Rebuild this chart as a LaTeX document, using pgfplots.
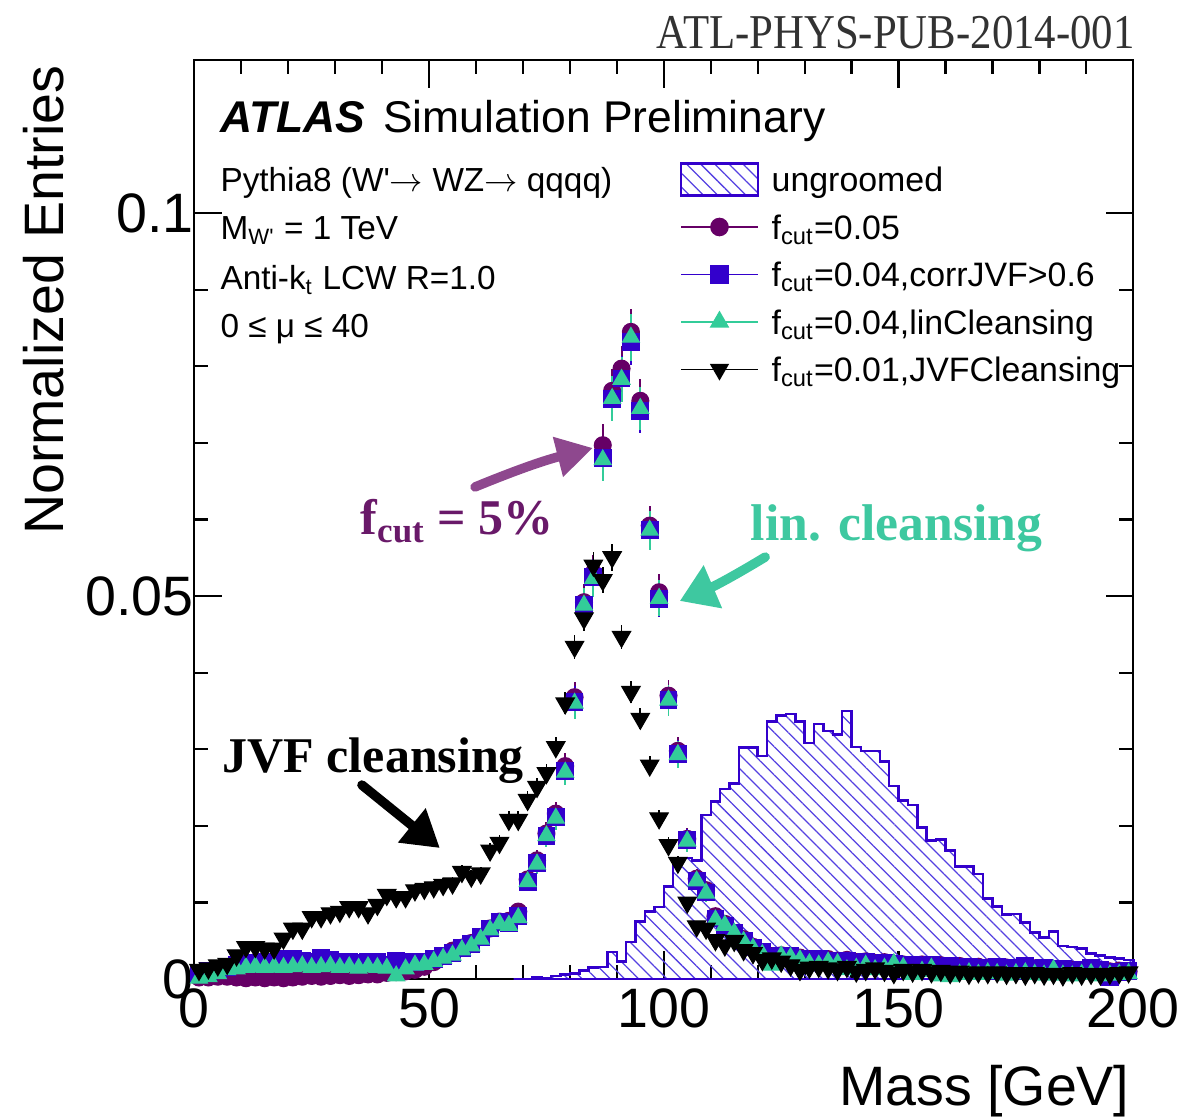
\documentclass[border=0pt]{standalone}
\usepackage{pgfplots}
\pgfplotsset{compat=1.18}
\usepackage{pgfplotstable}
\usetikzlibrary{patterns,patterns.meta,arrows.meta}
\usepackage{fontspec}
\setmainfont{Liberation Sans}
\newfontfamily\serif{Liberation Serif}
\definecolor{cpurple}{RGB}{102,0,102}
\definecolor{cblue}{RGB}{51,0,204}
\definecolor{cgreen}{RGB}{51,204,153}
\definecolor{hatch}{RGB}{85,65,225}
\definecolor{apurple}{RGB}{142,72,142}
\definecolor{tpurple}{RGB}{105,25,105}
\definecolor{agreen}{RGB}{62,200,160}
\definecolor{hdrgray}{RGB}{50,50,50}

\pgfplotsset{
  my line legend/.style={legend image code/.code={\draw[mark repeat=2,mark phase=2,##1] plot coordinates {(0pt,0pt) (13.85pt,0pt) (27.7pt,0pt)};}},
  my area legend/.style={legend image code/.code={\draw[##1] (0pt,-5.75pt) rectangle (27.7pt,5.75pt);}},
}

% ungroomed histogram: lower bin edge, content
\pgfplotstableread{
x y
68 0
70 0
72 0.0002
74 0.0001
76 0.0004
78 0.0006
80 0.0007
82 0.0011
84 0.0015
86 0.0016
88 0.0035
90 0.0023
92 0.0048
94 0.0075
96 0.0088
98 0.0094
100 0.0121
102 0.0156
104 0.0158
106 0.0155
108 0.0214
110 0.0232
112 0.0248
114 0.0255
116 0.0302
118 0.0302
120 0.0291
122 0.0336
124 0.0344
126 0.0346
128 0.0336
130 0.0308
132 0.0333
134 0.0324
136 0.0319
138 0.0350
140 0.0303
142 0.0298
144 0.0298
146 0.0284
148 0.0252
150 0.0233
152 0.0227
154 0.0198
156 0.0181
158 0.0182
160 0.0168
162 0.0147
164 0.0147
166 0.0137
168 0.0105
170 0.0095
172 0.0084
174 0.0085
176 0.0074
178 0.0061
180 0.0054
182 0.0062
184 0.0043
186 0.0042
188 0.0040
190 0.0033
192 0.0031
194 0.0028
196 0.0027
198 0.0025
200 0.0025
}\histtab

% f_cut = 0.05
\pgfplotstableread{
x y
1 0.0002
3 0.0002
5 0.0003
7 0.0003
9 0.0002
11 0.0001
13 0.0002
15 0.0001
17 0.0002
19 0.0001
21 0.0002
23 0.0003
25 0.0004
27 0.0003
29 0.0004
31 0.0005
33 0.0004
35 0.0005
37 0.0006
39 0.0006
41 0.0008
43 0.0009
45 0.0010
47 0.0012
49 0.0016
51 0.0022
53 0.0030
55 0.0037
57 0.0041
59 0.0047
61 0.0055
63 0.0066
65 0.0075
67 0.0076
69 0.0088
71 0.0130
73 0.0155
75 0.0190
77 0.0216
79 0.0278
81 0.0368
83 0.0492
85 0.0530
87 0.0697
89 0.0768
91 0.0797
93 0.0845
95 0.0755
97 0.0592
99 0.0505
101 0.0370
103 0.0298
105 0.0183
107 0.0131
109 0.0116
111 0.0082
113 0.0072
115 0.0060
117 0.0052
119 0.0042
121 0.0035
123 0.0030
125 0.0031
127 0.0030
129 0.0028
131 0.0026
133 0.0025
135 0.0026
137 0.0024
139 0.0025
141 0.0022
143 0.0023
145 0.0021
147 0.0022
149 0.0020
151 0.0019
153 0.0018
155 0.0019
157 0.0017
159 0.0018
161 0.0016
163 0.0017
165 0.0015
167 0.0016
169 0.0015
171 0.0014
173 0.0015
175 0.0014
177 0.0013
179 0.0014
181 0.0013
183 0.0012
185 0.0013
187 0.0012
189 0.0011
191 0.0012
193 0.0011
195 0.0010
197 0.0011
199 0.0010
}\purtab

% f_cut = 0.04, corrJVF > 0.6
\pgfplotstableread{
x y
1 0.0006
3 0.0010
5 0.0013
7 0.0016
9 0.0018
11 0.0020
13 0.0021
15 0.0022
17 0.0022
19 0.0026
21 0.0026
23 0.0024
25 0.0023
27 0.0028
29 0.0025
31 0.0022
33 0.0022
35 0.0021
37 0.0023
39 0.0022
41 0.0019
43 0.0024
45 0.0023
47 0.0022
49 0.0023
51 0.0026
53 0.0030
55 0.0034
57 0.0040
59 0.0046
61 0.0055
63 0.0066
65 0.0075
67 0.0073
69 0.0082
71 0.0127
73 0.0151
75 0.0187
77 0.0212
79 0.0272
81 0.0362
83 0.0488
85 0.0525
87 0.0680
89 0.0757
91 0.0784
93 0.0832
95 0.0742
97 0.0586
99 0.0496
101 0.0364
103 0.0294
105 0.0182
107 0.0128
109 0.0113
111 0.0079
113 0.0070
115 0.0060
117 0.0050
119 0.0041
121 0.0036
123 0.0029
125 0.0030
127 0.0030
129 0.0026
131 0.0025
133 0.0026
135 0.0024
137 0.0023
139 0.0024
141 0.0021
143 0.0022
145 0.0020
147 0.0021
149 0.0020
151 0.0018
153 0.0019
155 0.0017
157 0.0018
159 0.0016
161 0.0017
163 0.0015
165 0.0016
167 0.0014
169 0.0015
171 0.0016
173 0.0014
175 0.0015
177 0.0017
179 0.0013
181 0.0014
183 0.0012
185 0.0013
187 0.0011
189 0.0012
191 0.0014
193 0.0012
195 0.0002
197 0.0009
199 0.0010
}\blutab

% f_cut = 0.04, linCleansing
\pgfplotstableread{
x y
1 0.0001
3 0.0003
5 0.0007
7 0.0012
9 0.0013
11 0.0015
13 0.0016
15 0.0015
17 0.0016
19 0.0015
21 0.0016
23 0.0017
25 0.0015
27 0.0016
29 0.0017
31 0.0015
33 0.0016
35 0.0014
37 0.0016
39 0.0015
41 0.0014
43 0.0004
45 0.0013
47 0.0018
49 0.0019
51 0.0023
53 0.0027
55 0.0031
57 0.0038
59 0.0043
61 0.0052
63 0.0064
65 0.0072
67 0.0070
69 0.0080
71 0.0127
73 0.0150
75 0.0187
77 0.0210
79 0.0270
81 0.0360
83 0.0488
85 0.0523
87 0.0678
89 0.0758
91 0.0783
93 0.0838
95 0.0745
97 0.0586
99 0.0497
101 0.0364
103 0.0293
105 0.0180
107 0.0128
109 0.0112
111 0.0077
113 0.0070
115 0.0060
117 0.0049
119 0.0040
121 0.0032
123 0.0018
125 0.0030
127 0.0028
129 0.0025
131 0.0020
133 0.0018
135 0.0022
137 0.0020
139 0.0012
141 0.0014
143 0.0018
145 0.0012
147 0.0014
149 0.0020
151 0.0015
153 0.0006
155 0.0010
157 0.0014
159 0.0004
161 0.0003
163 0.0006
165 0.0008
167 0.0006
169 0.0008
171 0.0007
173 0.0005
175 0.0007
177 0.0008
179 0.0006
181 0.0005
183 0.0012
185 0.0005
187 0.0004
189 0.0006
191 0.0007
193 0.0004
195 0.0005
197 0.0006
199 0.0007
}\grntab

% f_cut = 0.01, JVFCleansing
\pgfplotstableread{
x y
1 0.0012
3 0.0014
5 0.0018
7 0.0020
9 0.0031
11 0.0042
13 0.0042
15 0.0040
17 0.0040
19 0.0053
21 0.0066
23 0.0066
25 0.0081
27 0.0081
29 0.0086
31 0.0088
33 0.0094
35 0.0094
37 0.0086
39 0.0097
41 0.0110
43 0.0107
45 0.0107
47 0.0116
49 0.0118
51 0.0120
53 0.0123
55 0.0125
57 0.0140
59 0.0134
61 0.0138
63 0.0168
65 0.0178
67 0.0208
69 0.0208
71 0.0234
73 0.0251
75 0.0269
77 0.0303
79 0.0360
81 0.0434
83 0.0471
85 0.0540
87 0.0521
89 0.0551
91 0.0447
93 0.0375
95 0.0340
97 0.0279
99 0.0210
101 0.0175
103 0.0152
105 0.0100
107 0.0069
109 0.0066
111 0.0051
113 0.0044
115 0.0050
117 0.0038
119 0.0034
121 0.0025
123 0.0027
125 0.0023
127 0.0018
129 0.0012
131 0.0015
133 0.0016
135 0.0014
137 0.0012
139 0.0016
141 0.0010
143 0.0012
145 0.0014
147 0.0011
149 0.0008
151 0.0012
153 0.0010
155 0.0012
157 0.0009
159 0.0011
161 0.0008
163 0.0010
165 0.0007
167 0.0009
169 0.0008
171 0.0009
173 0.0007
175 0.0008
177 0.0006
179 0.0008
181 0.0006
183 0.0007
185 0.0005
187 0.0008
189 0.0006
191 0.0007
193 0.0006
195 0.0007
197 0.0008
199 0.0009
}\blktab

\begin{document}
\begin{tikzpicture}
\useasboundingbox (-69.95pt,-50.04pt) rectangle (356.29pt,352.44pt);
\begin{axis}[
  at={(0pt,0pt)}, anchor=south west,
  scale only axis, width=338.04pt, height=330.84pt,
  xmin=0, xmax=200, ymin=0, ymax=0.12,
  xtick={0,50,100,150,200}, xticklabels={0,50,100,150,200}, minor x tick num=4,
  ytick={0,0.05,0.1}, yticklabels={0,0.05,0.1}, minor y tick num=4,
  scaled y ticks=false,
  tick align=inside,
  major tick length=10pt, minor tick length=5pt,
  every tick/.style={black, line width=0.8pt},
  axis line style={line width=0.8pt},
  tick label style={font=\fontsize{20}{24}\selectfont},
  yticklabel style={xshift=3.3pt},
  /pgf/number format/assume math mode=true,
  clip=false,
  xlabel={Mass [GeV]},
  xlabel style={at={(rel axis cs:0.9965,-0.1371)}, anchor=base east, inner sep=0pt, font=\fontsize{20}{24}\selectfont},
  ylabel={Normalized Entries},
  ylabel style={at={(rel axis cs:-0.1398,0.9946)}, anchor=base east, inner sep=0pt, font=\fontsize{20}{24}\selectfont},
  legend style={at={(axis cs:103.4,0.1075)}, anchor=north west, draw=none, fill=none,
    inner sep=0pt, outer sep=0pt, row sep=0pt, column sep=4.5pt,
    font=\fontsize{12.2}{14}\selectfont,
    nodes={inner sep=0pt, text height=12.95pt, text depth=4.15pt}},
  legend cell align=left,
]
\addlegendimage{my area legend, draw=cblue, line width=0.9pt, pattern={Lines[angle=-45,distance=3.6pt,line width=0.45pt]}, pattern color=hatch}
\addlegendentry{ungroomed}
\addlegendimage{my line legend, color=cpurple, line width=0.6pt, mark=*, mark size=3.05pt}
\addlegendentry{f\textsubscript{cut}=0.05}
\addlegendimage{my line legend, color=cblue, line width=0.6pt, mark=square*, mark size=3pt}
\addlegendentry{f\textsubscript{cut}=0.04,corrJVF>0.6}
\addlegendimage{my line legend, color=cgreen, line width=0.6pt, mark=triangle*, mark size=3.5pt}
\addlegendentry{f\textsubscript{cut}=0.04,linCleansing}
\addlegendimage{my line legend, color=black, line width=0.6pt, mark=triangle*, mark size=3.4pt, mark options={rotate=180}}
\addlegendentry{f\textsubscript{cut}=0.01,JVFCleansing}

\addplot[const plot mark left, draw=cblue, line width=0.9pt, pattern={Lines[angle=-45,distance=3.6pt,line width=0.45pt]}, pattern color=hatch, forget plot]
  table[x=x,y=y]{\histtab} \closedcycle;

\addplot[only marks, mark=*, mark size=3.05pt, color=cpurple, forget plot,
  error bars/.cd, y dir=both, y explicit, error bar style={line width=0.7pt}, error mark=none]
  table[x=x, y=y, y error expr={0.0105*sqrt(\thisrow{y})}]{\purtab};
\addplot[only marks, mark=square*, mark size=3pt, color=cblue, forget plot,
  error bars/.cd, y dir=both, y explicit, error bar style={line width=0.7pt}, error mark=none]
  table[x=x, y=y, y error expr={0.0105*sqrt(\thisrow{y})}]{\blutab};
\addplot[only marks, mark=triangle*, mark size=3.5pt, color=cgreen, forget plot,
  error bars/.cd, y dir=both, y explicit, error bar style={line width=0.7pt}, error mark=none]
  table[x=x, y=y, y error expr={0.0105*sqrt(\thisrow{y})}]{\grntab};
\addplot[only marks, mark=triangle*, mark size=3.8pt, mark options={rotate=180}, color=black, forget plot,
  error bars/.cd, y dir=both, y explicit, error bar style={line width=0.6pt}, error mark=none]
  table[x=x, y=y, y error expr={0.0075*sqrt(\thisrow{y})}]{\blktab};

% text
\node[anchor=base west, font=\fontsize{16}{19}\selectfont, inner sep=0pt] at (axis cs:5.47,0.11051) {\textbf{\textit{ATLAS}}\hspace{2pt} Simulation Preliminary};
\node[anchor=base west, font=\fontsize{12}{14}\selectfont, inner sep=0pt] at (axis cs:5.47,0.10281) {Pythia8 (W\textquotesingle$\rightarrow$ WZ$\rightarrow$ qqqq)};
\node[anchor=base west, font=\fontsize{12}{14}\selectfont, inner sep=0pt] at (axis cs:5.47,0.0965) {M\textsubscript{W\textquotesingle} = 1 TeV};
\node[anchor=base west, font=\fontsize{12}{14}\selectfont, inner sep=0pt] at (axis cs:5.47,0.09006) {Anti-k\textsubscript{t} LCW R=1.0};
\node[anchor=base west, font=\fontsize{12}{14}\selectfont, inner sep=0pt] at (axis cs:5.47,0.0838) {0 ≤ μ ≤ 40};

\node[anchor=base east, font=\serif\fontsize{17.5}{20}\selectfont, text=hdrgray, inner sep=0pt] at (axis cs:200.4,0.12144) {\scalebox{0.88}[1]{ATL-PHYS-PUB-2014-001}};

% annotations
\node[anchor=base west, font=\serif\bfseries\fontsize{18}{22}\selectfont, text=tpurple, inner sep=0pt] at (axis cs:35.3,0.058) {f\textsubscript{cut} = 5\%};
\node[anchor=base west, font=\serif\bfseries\fontsize{18.6}{22}\selectfont, text=agreen, inner sep=0pt] at (axis cs:118.4,0.0573) {lin. cleansing};
\node[anchor=base west, font=\serif\bfseries\fontsize{18}{22}\selectfont, text=black, inner sep=0pt] at (axis cs:5.9,0.027) {JVF cleansing};

\draw[line width=3.4pt, line cap=round, color=apurple, -{Triangle[length=13pt,width=14pt]}] (axis cs:59.8,0.06425) to[bend left=4] (axis cs:84.9,0.06934);
\draw[line width=3.4pt, line cap=round, color=agreen, -{Triangle[length=13pt,width=16pt]}] (axis cs:121.6,0.0551) to[bend left=4] (axis cs:103.4,0.04936);
\draw[line width=3.4pt, line cap=round, color=black, -{Triangle[length=13pt,width=15pt]}] (axis cs:35.7,0.02533) -- (axis cs:52.3,0.0171);
\end{axis}
\end{tikzpicture}
\end{document}
